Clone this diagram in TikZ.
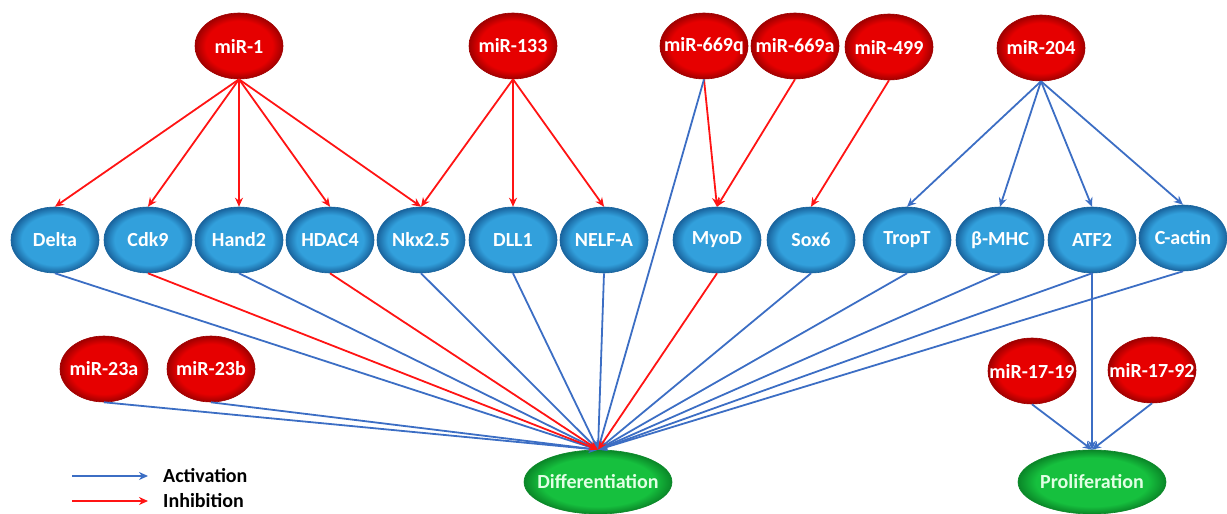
\documentclass[tikz,border=0pt]{standalone}
\usepackage{fontspec}
\setmainfont{Carlito}
\usetikzlibrary{shapes.geometric,arrows.meta}

\definecolor{rcen}{RGB}{230,0,0}
\definecolor{redg}{RGB}{160,0,0}
\definecolor{bcen}{RGB}{50,160,220}
\definecolor{bedg}{RGB}{25,100,158}
\definecolor{gcen}{RGB}{22,192,62}
\definecolor{gedg}{RGB}{10,135,40}
\definecolor{mint}{RGB}{225,255,228}
\definecolor{actblue}{RGB}{60,110,196}
\definecolor{inhred}{RGB}{255,20,20}

\pgfdeclareradialshading{redsh}{\pgfpoint{0bp}{0bp}}{color(0bp)=(rcen); color(19bp)=(rcen); color(25bp)=(redg); color(50bp)=(redg)}
\pgfdeclareradialshading{bluesh}{\pgfpoint{0bp}{0bp}}{color(0bp)=(bcen); color(19bp)=(bcen); color(25bp)=(bedg); color(50bp)=(bedg)}
\pgfdeclareradialshading{greensh}{\pgfpoint{0bp}{0bp}}{color(0bp)=(gcen); color(19bp)=(gcen); color(25bp)=(gedg); color(50bp)=(gedg)}

\newcommand\nlab[1]{\makebox[0pt]{#1}}

\tikzset{
  base/.style={ellipse, minimum width=88pt, minimum height=66pt, inner sep=0pt,
    text=white, font=\bfseries\fontsize{20}{24}\selectfont},
  mir/.style={base, shade, shading=redsh, draw=redg, line width=0.6pt},
  gene/.style={base, shade, shading=bluesh, draw=bedg, line width=0.6pt},
  outc/.style={base, shade, shading=greensh, draw=gedg, line width=0.6pt,
    minimum width=148pt, minimum height=64pt, text=mint},
  act/.style={draw=actblue, line width=1.8pt, -{Stealth[length=9pt,width=8pt]}},
  inh/.style={draw=inhred, line width=1.8pt, -{Stealth[length=9pt,width=8pt]}},
  legtxt/.style={anchor=west, inner sep=0pt, text=black, font=\bfseries\fontsize{20}{24}\selectfont}
}

\begin{document}
\begin{tikzpicture}[x=1pt,y=-1pt]
\useasboundingbox (0,0) rectangle (1227,514);

% top miRNAs
\node[mir] (mir1)    at (239,46) {\nlab{miR-1}};
\node[mir] (mir133)  at (513,46) {\nlab{miR-133}};
\node[mir] (mir669q) at (704,46) {\nlab{miR-669q}};
\node[mir] (mir669a) at (795,46) {\nlab{miR-669a}};
\node[mir] (mir499)  at (889,47) {\nlab{miR-499}};
\node[mir] (mir204)  at (1041,48) {\nlab{miR-204}};

% genes
\node[gene] (delta)  at (55,240)  {\nlab{Delta}};
\node[gene] (cdk9)   at (148,240) {\nlab{Cdk9}};
\node[gene] (hand2)  at (239,240) {\nlab{Hand2}};
\node[gene] (hdac4)  at (330,240) {\nlab{HDAC4}};
\node[gene] (nkx)    at (421,240) {\nlab{Nkx2.5}};
\node[gene] (dll1)   at (513,240) {\nlab{DLL1}};
\node[gene] (nelfa)  at (604,240) {\nlab{NELF-A}};
\node[gene] (myod)   at (717,240) {\nlab{MyoD}};
\node[gene] (sox6)   at (811,240) {\nlab{Sox6}};
\node[gene] (tropt)  at (907,240) {\nlab{TropT}};
\node[gene] (bmhc)   at (1000,240) {\nlab{β-MHC}};
\node[gene] (atf2)   at (1092,240) {\nlab{ATF2}};
\node[gene] (cactin) at (1183,238) {\nlab{C-actin}};

% lower miRNAs
\node[mir] (mir23a)  at (104,369)  {\nlab{miR-23a}};
\node[mir] (mir23b)  at (211,369)  {\nlab{miR-23b}};
\node[mir] (mir1719) at (1032,371) {\nlab{miR-17-19}};
\node[mir] (mir1792) at (1152,370) {\nlab{miR-17-92}};

% outcomes
\node[outc] (diff)   at (598,482)  {\nlab{Differentiation}};
\node[outc] (prolif) at (1092,482) {\nlab{Proliferation}};

% miR-1 targets
\foreach \t in {delta,cdk9,hand2,hdac4,nkx}
  \draw[inh] (mir1.south) -- (\t.north);
% miR-133 targets
\foreach \t in {nkx,dll1,nelfa}
  \draw[inh] (mir133.south) -- (\t.north);
\draw[inh] (mir669q.south) -- (myod.north);
\draw[inh] (mir669a.south) -- (myod.north);
\draw[inh] (mir499.south) -- (sox6.north);
% miR-204 targets
\foreach \t in {tropt,bmhc,atf2,cactin}
  \draw[act] (mir204.south) -- (\t.north);

% to differentiation
\foreach \s in {delta,hand2,nkx,dll1,nelfa,sox6,tropt,bmhc,atf2,cactin,mir23a,mir23b}
  \draw[act] (\s.south) -- (diff.north);
\draw[act] (mir669q.south) -- (diff.north);
\foreach \s in {cdk9,hdac4,myod}
  \draw[inh] (\s.south) -- (diff.north);

% to proliferation
\draw[act] (atf2.south) -- (prolif.north);
\draw[act] (mir1719.south) -- (prolif.north);
\draw[act] (mir1792.south) -- (prolif.north);

% legend
\coordinate (la1) at (72,476);
\coordinate (la2) at (148,476);
\coordinate (li1) at (72,501);
\coordinate (li2) at (148,501);
\draw[act, line width=2pt] (la1) -- (la2);
\draw[inh, line width=2pt] (li1) -- (li2);
\node[legtxt] (actl) at (163,476) {Activation};
\node[legtxt] (inhl) at (163,501) {Inhibition};
\end{tikzpicture}
\end{document}
